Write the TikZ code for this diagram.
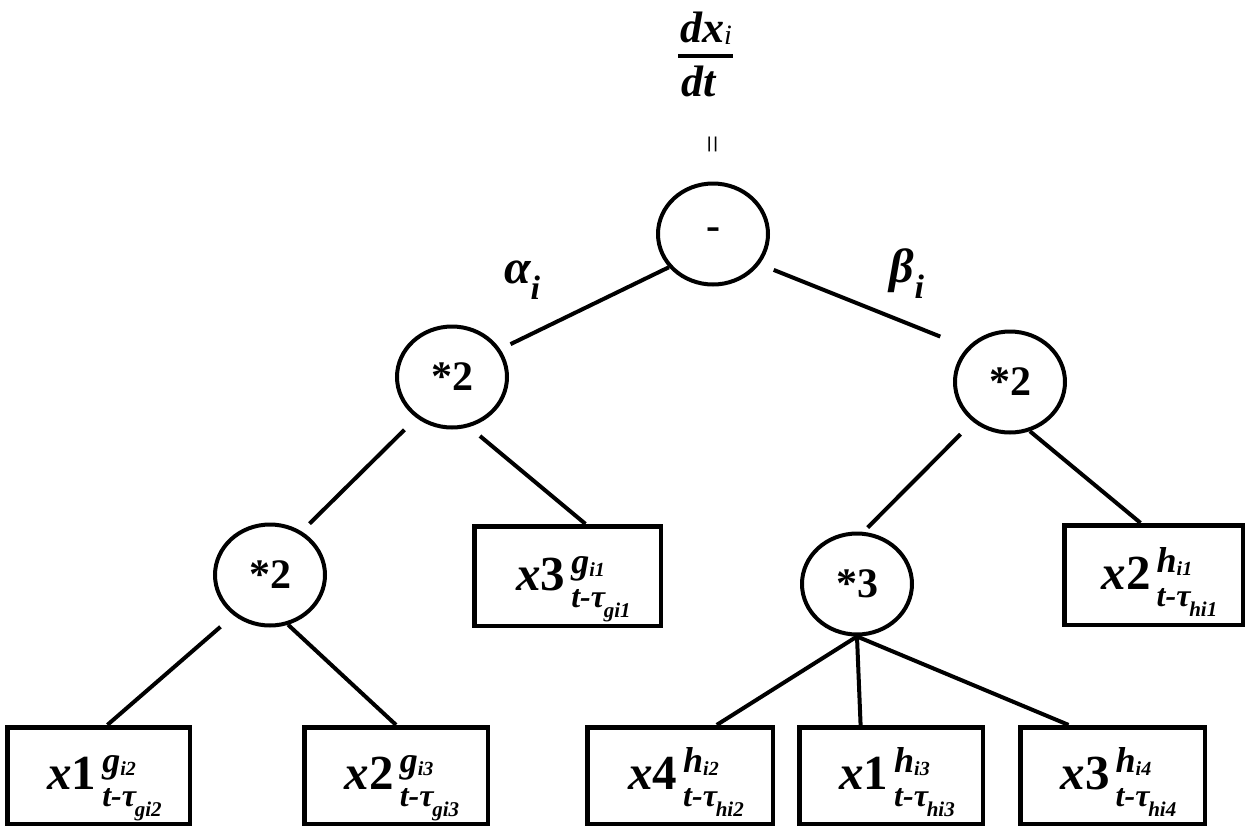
\documentclass[tikz,border=0pt]{standalone}
\usepackage{fontspec}
\setmainfont{Liberation Serif}
\usetikzlibrary{shapes.geometric,calc}
\newcommand{\fs}[1]{\fontsize{#1}{#1}\selectfont}
\newcommand{\bi}[1]{\textbf{\textit{#1}}}
\newcommand{\vlab}[4]{\hspace*{6pt}\bi{x}\textbf{#1}\hspace{3pt}\rlap{\raisebox{8.5pt}{\fs{18}\bi{#2}\raisebox{-1.5pt}{\fs{10}\bi{i#3}}}}\raisebox{-8.5pt}{\fs{16}\bi{t-τ}\hspace{-1pt}\raisebox{-5pt}{\fs{10.5}\bi{#4i#3}}}}
\begin{document}
\begin{tikzpicture}[x=0.5pt,y=-0.5pt,
  op/.style={ellipse, draw, line width=2pt, minimum width=55pt, minimum height=50.5pt, inner sep=0pt, font=\fs{21}\bfseries},
  leaf/.style={rectangle, draw, line width=2.3pt, minimum height=48.3pt, inner sep=0pt, font=\fs{24.5}, text height=16.5pt, text depth=2.5pt},
  edge/.style={line width=2pt}]
\useasboundingbox (0,0) rectangle (1250,831);
% fraction and equals
\node[font=\fs{22}\bfseries\itshape, inner sep=0] (num) at (706,28) {dx\raisebox{-1pt}{\fs{14}\mdseries\itshape i}};
\node[fill=black, minimum width=27.5pt, minimum height=2.4pt, inner sep=0] (bar) at (705.5,56) {};
\node[font=\fs{22}\bfseries\itshape, inner sep=0] (den) at (699,81) {dt};
\node[rotate=90, font=\fs{16}, inner sep=0] (eq) at (716,144) {=};
% operators
\node[op] (root) at (713,234) {-};
\node[op] (L1) at (452,377) {*2};
\node[op] (R1) at (1010,382) {*2};
\node[op] (LL) at (270,575) {*2};
\node[op] (M3) at (857,584) {*3};
% leaves
\node[leaf, minimum width=93.3pt, minimum height=49.8pt] (bx3) at (567.5,576) {\vlab{3}{g}{1}{g}};
\node[leaf, minimum width=89.3pt, minimum height=49.8pt] (bx2r) at (1153.5,575) {\vlab{2}{h}{1}{h}};
\node[leaf, minimum width=91.3pt] (bx1) at (98.5,775.5) {\vlab{1}{g}{2}{g}};
\node[leaf, minimum width=91.8pt] (bx2) at (396,775.5) {\vlab{2}{g}{3}{g}};
\node[leaf, minimum width=92.8pt] (bx4) at (680,775.5) {\vlab{4}{h}{2}{h}};
\node[leaf, minimum width=91.8pt] (bx1h) at (891,775.5) {\vlab{1}{h}{3}{h}};
\node[leaf, minimum width=92.3pt] (bx3h) at (1112.5,775.5) {\vlab{3}{h}{4}{h}};
% weights
\node[font=\fs{24}\bfseries\itshape, inner sep=0] (alpha) at (522,280) {α\raisebox{-8pt}{\fs{17}i}};
\node[font=\fs{24}\bfseries\itshape, inner sep=0] (beta) at (907,274) {β\raisebox{-8pt}{\fs{17}i}};
% edges
\draw[edge, shorten >=5.7pt] (root.217.7) -- (L1.30.5);
\draw[edge, shorten <=7.6pt, shorten >=14.5pt] (root.-33.7) -- (R1.141.5);
\draw[edge, shorten <=8.4pt, shorten >=5.5pt] (L1.229.1) -- (LL.54.8);
\draw[edge, shorten <=7pt] (L1.-71) -- (bx3.71.1);
\draw[edge, shorten <=8.7pt] (LL.228.5) -- (bx1.80.3);
\draw[edge] (LL.-70.6) -- (bx2.north);
\draw[edge, shorten <=8.7pt, shorten >=3pt] (R1.227.3) -- (M3.83.9);
\draw[edge] (R1.-68.2) -- (bx2r.104.8);
\draw[edge] (M3.south) -- (bx4.54.7);
\draw[edge] (M3.south) -- (bx1h.121.2);
\draw[edge] (M3.south) -- (bx3h.131.6);
\end{tikzpicture}
\end{document}
